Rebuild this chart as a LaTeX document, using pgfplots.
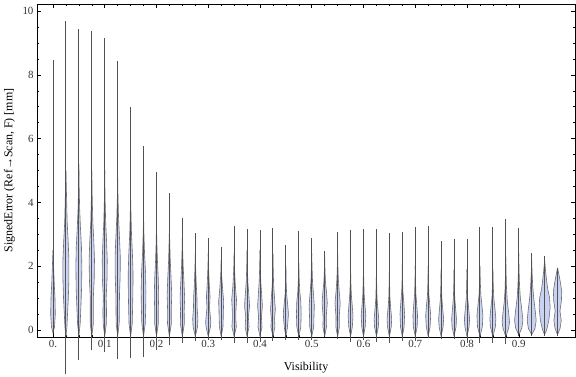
\documentclass[border=0pt]{standalone}
\usepackage{fontspec}
\setmainfont{Liberation Serif}
\usepackage{pgfplots}
\pgfplotsset{compat=1.18}
\definecolor{vfillc}{RGB}{202,210,242}
\definecolor{vedge}{RGB}{110,110,120}
\definecolor{tickc}{RGB}{50,50,50}
\pgfplotsset{
  vfill/.style={fill=vfillc, draw=vedge, line width=0.6bp},
  vline/.style={draw=black!68, line width=0.9bp},
}
% #1 centre, #2 min, #3 max, #4 profile rows: y, half width (px)
\newcommand{\violin}[4]{%
  \addplot[vfill] table[row sep=\\, x expr={#1+0.001932*\thisrow{w}}, y=y] {y w\\ #4};
  \addplot[vfill] table[row sep=\\, x expr={#1-0.001932*\thisrow{w}}, y=y] {y w\\ #4};
  \addplot[vline] coordinates {(#1,#2) (#1,#3)};
}
\begin{document}
\begin{tikzpicture}
\path[use as bounding box] (-37bp,-40bp) rectangle (539bp,337bp);
\begin{axis}[
  at={(0,0)}, anchor=south west,
  scale only axis, width=538bp, height=333bp,
  xmin=-0.0309, xmax=1.0087, ymin=-0.219, ymax=10.22,
  clip=false,
  axis line style={line width=0.7bp, black},
  tick align=inside,
  major tick length=4.5bp, minor tick length=2.5bp,
  every tick/.style={black, line width=0.5bp},
  xtick={0,0.1,0.2,0.3,0.4,0.5,0.6,0.7,0.8,0.9},
  xticklabels={0.,0.1,0.2,0.3,0.4,0.5,0.6,0.7,0.8,0.9},
  ytick={0,2,4,6,8,10},
  minor x tick num=3, minor y tick num=3,
  /pgf/number format/assume math mode=true,
  tick label style={font=\fontsize{11}{13}\selectfont, text=tickc},
  label style={font=\fontsize{12}{14}\selectfont},
  xlabel={Visibility},
  ylabel={SignedError (Ref→Scan, F) [mm]},
  xlabel style={at={(axis description cs:0.5,-0.093)}, anchor=center},
  ylabel style={at={(axis description cs:-0.0511,0.5)}, anchor=center},
]
\violin{0}{-0.10}{8.46}{-0.1 0\\ 0.1 1.5\\ 0.5 2.3\\ 1.0 2.0\\ 1.5 1.2\\ 2.0 0.6\\ 2.5 0\\}
\violin{0.025}{-1.38}{9.69}{-0.2 0\\ 0.1 1.0\\ 0.5 1.6\\ 1.0 2.4\\ 1.6 3.0\\ 2.2 3.0\\ 2.8 2.2\\ 3.4 1.2\\ 4.2 0.6\\ 5.0 0\\}
\violin{0.05}{-0.94}{9.44}{-0.2 0\\ 0.2 1.3\\ 0.7 2.0\\ 1.3 2.7\\ 2.0 3.0\\ 2.6 2.6\\ 3.2 1.6\\ 3.8 0.8\\ 4.5 0.3\\ 5.2 0\\}
\violin{0.075}{-0.63}{9.38}{-0.2 0\\ 0.2 1.5\\ 0.6 1.6\\ 1.0 1.5\\ 1.6 2.4\\ 2.2 2.7\\ 2.8 2.0\\ 3.4 1.0\\ 4.2 0.4\\ 5.0 0\\}
\violin{0.1}{-0.68}{9.14}{-0.2 0\\ 0.2 1.6\\ 0.6 1.8\\ 1.0 1.4\\ 1.6 2.3\\ 2.2 2.5\\ 2.8 1.8\\ 3.4 0.9\\ 4.2 0.3\\ 5.0 0\\}
\violin{0.125}{-0.92}{8.44}{-0.2 0\\ 0.2 1.5\\ 0.6 1.7\\ 1.1 1.8\\ 1.7 2.5\\ 2.3 2.6\\ 2.9 1.8\\ 3.5 0.9\\ 4.2 0.3\\ 4.8 0\\}
\violin{0.15}{-0.88}{7.00}{-0.2 0\\ 0.2 1.6\\ 0.7 2.0\\ 1.2 2.3\\ 1.8 2.4\\ 2.4 1.8\\ 3.0 0.9\\ 3.6 0.4\\ 4.2 0\\}
\violin{0.175}{-0.84}{5.78}{-0.2 0\\ 0.2 1.7\\ 0.7 2.2\\ 1.2 2.4\\ 1.8 2.0\\ 2.4 1.0\\ 3.0 0.4\\ 3.6 0\\}
\violin{0.2}{-0.63}{4.94}{-0.2 0\\ 0.2 1.8\\ 0.6 1.8\\ 1.1 2.2\\ 1.6 1.8\\ 2.2 0.9\\ 2.8 0.3\\ 3.4 0\\}
\violin{0.225}{-0.47}{4.30}{-0.2 0\\ 0.2 1.9\\ 0.6 1.8\\ 1.1 2.3\\ 1.6 1.7\\ 2.2 0.8\\ 2.8 0.3\\ 3.2 0\\}
\violin{0.25}{-0.42}{3.50}{-0.2 0\\ 0.2 2.0\\ 0.6 1.8\\ 1.0 2.3\\ 1.5 1.6\\ 2.0 0.8\\ 2.5 0.3\\ 3.0 0\\}
\violin{0.275}{-0.34}{3.03}{-0.2 0\\ 0.1 2.2\\ 0.35 2.6\\ 0.7 1.8\\ 1.0 1.7\\ 1.4 1.0\\ 1.9 0.4\\ 2.4 0\\}
\violin{0.3}{-0.31}{2.87}{-0.2 0\\ 0.1 2.2\\ 0.25 2.6\\ 0.7 1.3\\ 1.05 1.8\\ 1.5 0.9\\ 2.0 0.3\\ 2.4 0\\}
\violin{0.325}{-0.31}{2.61}{-0.2 0\\ 0.1 1.8\\ 0.3 2.0\\ 0.6 2.2\\ 0.9 2.5\\ 1.3 1.4\\ 1.7 0.5\\ 2.2 0\\}
\violin{0.35}{-0.42}{3.27}{-0.2 0\\ 0.1 2.2\\ 0.3 1.8\\ 0.6 1.8\\ 0.95 2.4\\ 1.4 1.2\\ 1.9 0.4\\ 2.4 0\\}
\violin{0.375}{-0.40}{3.17}{-0.2 0\\ 0.1 2.0\\ 0.4 1.3\\ 0.75 2.5\\ 1.1 1.8\\ 1.5 0.8\\ 2.0 0.3\\ 2.5 0\\}
\violin{0.4}{-0.37}{3.13}{-0.2 0\\ 0.1 2.0\\ 0.4 1.4\\ 0.75 2.4\\ 1.1 1.7\\ 1.5 0.8\\ 2.0 0.3\\ 2.5 0\\}
\violin{0.425}{-0.34}{3.20}{-0.2 0\\ 0.1 2.0\\ 0.35 1.6\\ 0.65 2.4\\ 1.0 1.6\\ 1.4 0.7\\ 1.9 0.3\\ 2.4 0\\}
\violin{0.45}{-0.31}{2.66}{-0.2 0\\ 0.05 1.4\\ 0.25 2.0\\ 0.5 2.6\\ 0.8 1.8\\ 1.1 0.8\\ 1.5 0.3\\ 2.0 0\\}
\violin{0.475}{-0.31}{3.10}{-0.2 0\\ 0.1 2.0\\ 0.5 2.4\\ 0.9 2.0\\ 1.2 1.0\\ 1.6 0.4\\ 2.1 0\\}
\violin{0.5}{-0.31}{2.90}{-0.2 0\\ 0.1 2.0\\ 0.4 2.2\\ 0.75 2.6\\ 1.1 1.8\\ 1.5 0.8\\ 2.0 0.3\\ 2.4 0\\}
\violin{0.525}{-0.20}{2.48}{-0.2 0\\ 0.1 1.8\\ 0.4 1.5\\ 0.85 2.6\\ 1.2 1.8\\ 1.5 0.8\\ 1.9 0.3\\ 2.3 0\\}
\violin{0.55}{-0.29}{3.06}{-0.2 0\\ 0.1 1.8\\ 0.4 1.6\\ 0.85 2.6\\ 1.2 1.6\\ 1.6 0.7\\ 2.0 0.3\\ 2.5 0\\}
\violin{0.575}{-0.37}{3.13}{-0.2 0\\ 0.1 1.8\\ 0.45 2.4\\ 0.8 1.6\\ 1.1 0.8\\ 1.5 0.3\\ 2.0 0\\}
\violin{0.6}{-0.31}{3.17}{-0.2 0\\ 0.1 1.7\\ 0.45 2.3\\ 0.8 1.4\\ 1.1 0.7\\ 1.5 0.3\\ 2.0 0\\}
\violin{0.625}{-0.39}{3.16}{-0.2 0\\ 0.1 1.9\\ 0.35 2.3\\ 0.7 1.3\\ 1.0 0.6\\ 1.5 0.2\\ 2.0 0\\}
\violin{0.65}{-0.42}{3.03}{-0.2 0\\ 0.1 1.9\\ 0.35 2.3\\ 0.7 1.3\\ 1.0 0.6\\ 1.5 0.2\\ 2.0 0\\}
\violin{0.675}{-0.34}{3.08}{-0.2 0\\ 0.1 1.8\\ 0.5 2.3\\ 0.9 1.4\\ 1.2 0.6\\ 1.6 0.2\\ 2.1 0\\}
\violin{0.7}{-0.34}{3.22}{-0.2 0\\ 0.1 1.9\\ 0.45 2.3\\ 0.8 1.5\\ 1.1 0.7\\ 1.5 0.3\\ 2.0 0\\}
\violin{0.725}{-0.26}{3.27}{-0.2 0\\ 0.1 1.9\\ 0.45 2.5\\ 0.8 1.6\\ 1.1 0.7\\ 1.5 0.3\\ 2.0 0\\}
\violin{0.75}{-0.29}{2.79}{-0.2 0\\ 0.1 2.0\\ 0.35 2.5\\ 0.7 1.5\\ 1.0 0.7\\ 1.4 0.3\\ 1.9 0\\}
\violin{0.775}{-0.29}{2.84}{-0.2 0\\ 0.1 2.0\\ 0.35 2.4\\ 0.7 1.5\\ 1.0 0.7\\ 1.4 0.3\\ 1.9 0\\}
\violin{0.8}{-0.40}{2.84}{-0.2 0\\ 0.1 2.1\\ 0.35 2.6\\ 0.7 1.6\\ 1.0 0.7\\ 1.4 0.3\\ 1.9 0\\}
\violin{0.825}{-0.42}{3.22}{-0.2 0\\ 0.1 2.4\\ 0.45 3.0\\ 0.8 1.9\\ 1.1 0.9\\ 1.5 0.4\\ 2.0 0\\}
\violin{0.85}{-0.40}{3.22}{-0.2 0\\ 0.1 2.5\\ 0.35 3.0\\ 0.7 2.0\\ 1.0 0.9\\ 1.4 0.4\\ 1.9 0\\}
\violin{0.875}{-0.44}{3.48}{-0.2 0\\ 0.05 2.8\\ 0.25 3.7\\ 0.55 2.8\\ 0.9 1.5\\ 1.3 0.7\\ 1.8 0.3\\ 2.3 0\\}
\violin{0.9}{-0.20}{3.19}{-0.15 0\\ 0.05 3.0\\ 0.3 4.2\\ 0.65 3.0\\ 1.0 1.6\\ 1.4 0.8\\ 1.9 0.3\\ 2.4 0\\}
\violin{0.925}{-0.19}{2.42}{-0.15 0\\ 0.05 3.3\\ 0.3 4.5\\ 0.65 3.4\\ 1.0 2.0\\ 1.4 1.0\\ 1.8 0.4\\ 2.2 0\\}
\violin{0.95}{-0.19}{2.32}{-0.15 0\\ 0.0 2.0\\ 0.3 4.2\\ 0.7 5.5\\ 1.0 5.0\\ 1.3 3.0\\ 1.6 1.8\\ 1.9 0.8\\ 2.2 0\\}
\violin{0.975}{-0.19}{1.95}{-0.15 0\\ 0.05 2.5\\ 0.3 3.7\\ 0.6 2.4\\ 0.9 3.8\\ 1.2 4.2\\ 1.5 2.8\\ 1.75 1.3\\ 1.95 0\\}
\end{axis}
\end{tikzpicture}
\end{document}
